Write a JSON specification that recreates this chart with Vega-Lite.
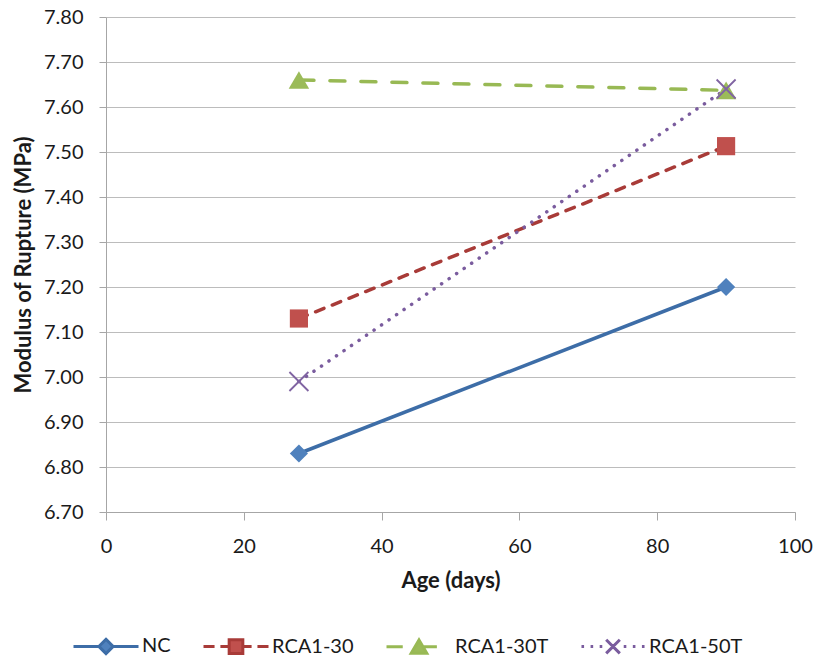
{
  "$schema": "https://vega.github.io/schema/vega-lite/v6.json",
  "width": 689,
  "height": 495,
  "autosize": {"type": "none"},
  "padding": {"left": 106, "top": 17, "right": 21, "bottom": 151},
  "background": "white",
  "data": {
    "values": [
      {"series": "NC", "age": 28, "mor": 6.83},
      {"series": "NC", "age": 90, "mor": 7.2},
      {"series": "RCA1-30", "age": 28, "mor": 7.13},
      {"series": "RCA1-30", "age": 90, "mor": 7.513},
      {"series": "RCA1-30T", "age": 28, "mor": 7.66},
      {"series": "RCA1-30T", "age": 90, "mor": 7.637},
      {"series": "RCA1-50T", "age": 28, "mor": 6.99},
      {"series": "RCA1-50T", "age": 90, "mor": 7.64}
    ]
  },
  "encoding": {
    "x": {
      "field": "age", "type": "quantitative",
      "scale": {"domain": [0, 100], "nice": false},
      "axis": {"values": [0, 20, 40, 60, 80, 100], "grid": false, "tickSize": 8, "labelPadding": 16, "title": "Age (days)", "titlePadding": 14}
    },
    "y": {
      "field": "mor", "type": "quantitative",
      "scale": {"domain": [6.7, 7.8], "nice": false, "zero": false},
      "axis": {"values": [6.7, 6.8, 6.9, 7, 7.1, 7.2, 7.3, 7.4, 7.5, 7.6, 7.7, 7.8], "format": ".2f", "grid": true, "tickSize": 7, "labelPadding": 16, "title": "Modulus of Rupture (MPa)", "titlePadding": 8}
    }
  },
  "layer": [
    {
      "transform": [{"filter": {"field": "series", "equal": "NC"}}],
      "mark": {"type": "line", "stroke": "#3D6DA7", "strokeWidth": 3.5},
      "encoding": {}
    },
    {
      "transform": [{"filter": {"field": "series", "equal": "RCA1-30"}}],
      "mark": {"type": "line", "stroke": "#A83B38", "strokeWidth": 3.5, "strokeDash": [9, 9], "strokeCap": "round"},
      "encoding": {}
    },
    {
      "transform": [{"filter": {"field": "series", "equal": "RCA1-30T"}}],
      "mark": {"type": "line", "stroke": "#98B954", "strokeWidth": 3.5, "strokeDash": [15, 16], "strokeCap": "round"},
      "encoding": {}
    },
    {
      "transform": [{"filter": {"field": "series", "equal": "RCA1-50T"}}],
      "mark": {"type": "line", "stroke": "#7A5C9E", "strokeWidth": 3.5, "strokeDash": [0.1, 9], "strokeCap": "round"},
      "encoding": {}
    },
    {
      "transform": [{"filter": {"field": "series", "equal": "NC"}}],
      "mark": {"type": "point", "shape": "diamond", "filled": true, "color": "#4F81BD", "opacity": 1, "size": 330}
    },
    {
      "transform": [{"filter": {"field": "series", "equal": "RCA1-30"}}],
      "mark": {"type": "point", "shape": "square", "filled": true, "color": "#C0504D", "opacity": 1, "size": 330}
    },
    {
      "transform": [{"filter": {"field": "series", "equal": "RCA1-30T"}}],
      "mark": {"type": "point", "shape": "triangle-up", "filled": true, "color": "#9BBB59", "opacity": 1, "size": 420}
    },
    {
      "transform": [{"filter": {"field": "series", "equal": "RCA1-50T"}}],
      "mark": {"type": "point", "shape": "M-1,-1L1,1M-1,1L1,-1", "filled": false, "color": "#8064A2", "strokeWidth": 1.8, "opacity": 1, "size": 361}
    },
    {
      "mark": {"type": "point", "filled": true, "opacity": 0},
      "encoding": {
        "shape": {
          "field": "series", "type": "nominal",
          "scale": {
            "domain": ["NC", "RCA1-30", "RCA1-30T", "RCA1-50T"],
            "range": [
              "M-1,0L-0.22,0M0.22,0L1,0M0,-0.22L0.22,0L0,0.22L-0.22,0Z",
              "M-1,0L-0.66,0M-0.48,0L-0.21,0M0.21,0L0.48,0M0.66,0L1,0M-0.21,-0.21L0.21,-0.21L0.21,0.21L-0.21,0.21Z",
              "M-1,0L-0.5,0M0.1,0L0.55,0M0,-0.21L0.24,0.2L-0.24,0.2Z",
              "M-0.97,0L-0.89,0M-0.69,0L-0.61,0M-0.41,0L-0.33,0M0.33,0L0.41,0M0.61,0L0.69,0M0.89,0L0.97,0M-0.21,-0.21L0.21,0.21M-0.21,0.21L0.21,-0.21"
            ]
          },
          "legend": {"title": null}
        },
        "fill": {
          "field": "series", "type": "nominal",
          "scale": {"domain": ["NC", "RCA1-30", "RCA1-30T", "RCA1-50T"], "range": ["#4F81BD", "#C0504D", "#9BBB59", "#8064A2"]},
          "legend": {"title": null}
        },
        "stroke": {
          "field": "series", "type": "nominal",
          "scale": {"domain": ["NC", "RCA1-30", "RCA1-30T", "RCA1-50T"], "range": ["#3D6DA7", "#A83B38", "#98B954", "#7A5C9E"]},
          "legend": {"title": null}
        }
      }
    }
  ],
  "config": {
    "view": {"stroke": null},
    "axis": {
      "labelFont": "Lato", "labelFontSize": 20, "labelColor": "#1a1a1a", "labelFlush": false, "labelOverlap": false,
      "titleFont": "Lato", "titleFontSize": 22, "titleFontWeight": "bold", "titleColor": "#1a1a1a",
      "domainColor": "#A6A6A6", "tickColor": "#A6A6A6", "gridColor": "#BCBCBC",
      "domainWidth": 1, "tickWidth": 1, "gridWidth": 1
    },
    "legend": {
      "orient": "none", "legendX": -34, "legendY": 595, "direction": "horizontal",
      "symbolSize": 4225, "symbolStrokeWidth": 3, "symbolOpacity": 1,
      "labelFont": "Lato", "labelFontSize": 20, "labelColor": "#1a1a1a",
      "labelOffset": 2, "columnPadding": 26, "padding": 0, "rowPadding": 0
    }
  }
}
